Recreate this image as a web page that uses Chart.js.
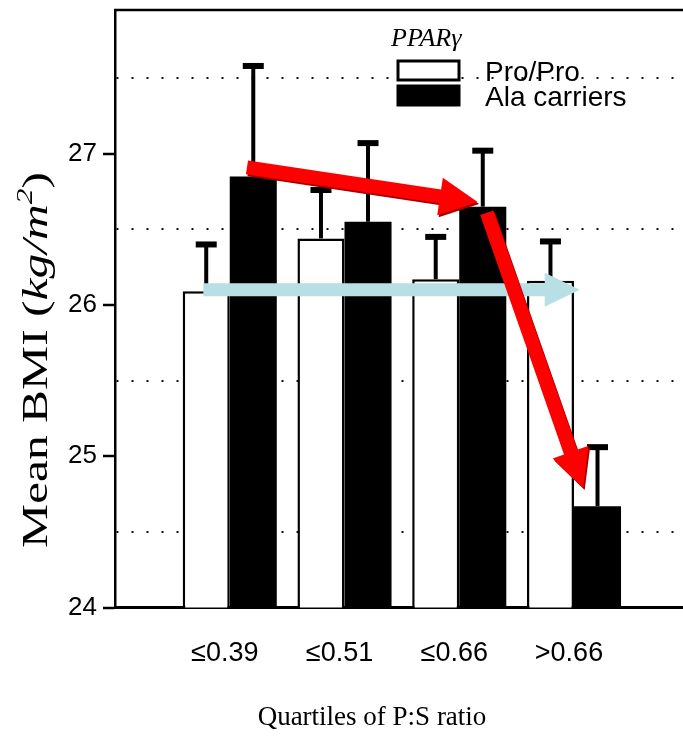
<!DOCTYPE html>
<html>
<head>
<meta charset="utf-8">
<title>Mean BMI by quartile of P:S ratio</title>
<script src="https://cdn.jsdelivr.net/npm/chart.js@4.4.1/dist/chart.umd.min.js"></script>
<style>
  html, body { margin: 0; padding: 0; background: #fff; }
  #wrap { position: relative; width: 683px; height: 736px; }
</style>
</head>
<body>
<div id="wrap"><canvas id="bmiChart"></canvas></div>
<script>
// ---- data ----
const categories  = ["≤0.39", "≤0.51", "≤0.66", ">0.66"];
const proProMean  = [26.09, 26.44, 26.17, 26.16];
const proProErr   = [0.31, 0.32, 0.28, 0.26];
const alaMean     = [26.85, 26.55, 26.65, 24.67];
const alaErr      = [0.73, 0.52, 0.37, 0.39];
const yTickValues = [24, 25, 26, 27];
const yDotLines   = [24.5, 25.5, 26.5, 27.5];

// annotation arrows, in data units (x = quartile position, y = BMI)
const redArrows = [
  { from: [1.15, 26.91], to: [3.16, 26.68] },
  { from: [3.24, 26.61], to: [4.08, 24.79] }
];
const blueArrow = { from: [0.77, 26.10], to: [4.05, 26.10] };

const SANS  = "'Liberation Sans', Arial, sans-serif";
const SERIF = "'Liberation Serif', 'Times New Roman', serif";

const toPoints = (vals) => vals.map((v, i) => ({ x: i + 1, y: v }));

function drawArrow(ctx, x1, y1, x2, y2, shaft, headLen, headW, color){
  const ang = Math.atan2(y2 - y1, x2 - x1);
  const len = Math.hypot(x2 - x1, y2 - y1);
  ctx.save();
  ctx.translate(x1, y1);
  ctx.rotate(ang);
  ctx.beginPath();
  ctx.moveTo(0, -shaft / 2);
  ctx.lineTo(len - headLen, -shaft / 2);
  ctx.lineTo(len - headLen, -headW / 2);
  ctx.lineTo(len, 0);
  ctx.lineTo(len - headLen, headW / 2);
  ctx.lineTo(len - headLen, shaft / 2);
  ctx.lineTo(0, shaft / 2);
  ctx.closePath();
  ctx.fillStyle = color;
  ctx.fill();
  ctx.restore();
}

// upper error whiskers, top frame line, arrows, legend and titles
const decorations = {
  id: "decorations",
  afterDatasetsDraw(chart){
    const { ctx, chartArea, scales: { x, y } } = chart;
    const errs = [proProErr, alaErr];

    // whiskers
    chart.data.datasets.forEach((ds, di) => {
      chart.getDatasetMeta(di).data.forEach((bar, i) => {
        const top = y.getPixelForValue(ds.data[i].y + errs[di][i]);
        ctx.save();
        ctx.strokeStyle = "#000";
        ctx.lineWidth = 4;
        ctx.beginPath();
        ctx.moveTo(bar.x, bar.y);
        ctx.lineTo(bar.x, top);
        ctx.stroke();
        ctx.fillStyle = "#000";
        ctx.fillRect(bar.x - 10.5, top - 3, 21, 6);
        ctx.restore();
      });
    });

    // top frame
    ctx.save();
    ctx.strokeStyle = "#000";
    ctx.lineWidth = 2.5;
    ctx.beginPath();
    ctx.moveTo(chartArea.left - 1, chartArea.top);
    ctx.lineTo(chartArea.right, chartArea.top);
    ctx.stroke();
    ctx.restore();

    // arrows
    const px = (p) => [x.getPixelForValue(p[0]), y.getPixelForValue(p[1])];
    const [b1, b2] = [px(blueArrow.from), px(blueArrow.to)];
    drawArrow(ctx, b1[0], b1[1], b2[0], b2[1], 13, 35, 34, "#b8dfe3");
    redArrows.forEach((a) => {
      const [p1, p2] = [px(a.from), px(a.to)];
      drawArrow(ctx, p1[0] + 1.5, p1[1] + 2, p2[0] + 1.5, p2[1] + 2, 14, 38, 38, "#a80000");
      drawArrow(ctx, p1[0], p1[1], p2[0], p2[1], 14, 38, 38, "#ff0000");
    });

    // legend
    ctx.save();
    ctx.fillStyle = "#000";
    ctx.textBaseline = "alphabetic";
    ctx.font = "italic 26px " + SERIF;
    ctx.fillText("PPARγ", 391, 46);
    const rows = [{ y: 61 }, { y: 86 }];
    chart.data.datasets.forEach((ds, di) => {
      const r = rows[di];
      ctx.fillStyle = ds.backgroundColor;
      ctx.fillRect(398, r.y, 61, 19);
      ctx.strokeStyle = "#000";
      ctx.lineWidth = 3;
      ctx.strokeRect(398, r.y, 61, 19);
      ctx.fillStyle = "#000";
      ctx.font = "28px " + SANS;
      ctx.textBaseline = "middle";
      ctx.fillText(ds.label, 485, r.y + 12);
    });
    ctx.restore();

    // y title: Mean BMI (kg/m²), stretched along its length like the original
    const parts = [
      { t: "Mean BMI (", f: "36px " + SERIF, rise: 0 },
      { t: "kg/m", f: "italic 36px " + SERIF, rise: 0 },
      { t: "2", f: "italic 23px " + SERIF, rise: 15 },
      { t: ")", f: "36px " + SERIF, rise: 0 }
    ];
    ctx.save();
    let total = 0;
    parts.forEach((p) => { ctx.font = p.f; p.w = ctx.measureText(p.t).width; total += p.w; });
    const k = 376 / total;
    ctx.translate(47, 360);
    ctx.rotate(-Math.PI / 2);
    ctx.scale(k, 1);
    ctx.fillStyle = "#000";
    ctx.textBaseline = "alphabetic";
    let cx = -total / 2;
    parts.forEach((p) => { ctx.font = p.f; ctx.fillText(p.t, cx, -p.rise); cx += p.w; });
    ctx.restore();

    // x title
    ctx.save();
    ctx.fillStyle = "#000";
    ctx.font = "27px " + SERIF;
    ctx.textAlign = "center";
    ctx.textBaseline = "alphabetic";
    ctx.fillText("Quartiles of P:S ratio", 372, 725);
    ctx.restore();
  }
};

new Chart(document.getElementById("bmiChart"), {
  type: "bar",
  data: {
    datasets: [
      {
        label: "Pro/Pro",
        data: toPoints(proProMean),
        backgroundColor: "#ffffff",
        borderColor: "#000000",
        borderWidth: 2.5,
        borderSkipped: false
      },
      {
        label: "Ala carriers",
        data: toPoints(alaMean),
        backgroundColor: "#000000",
        borderColor: "#000000",
        borderWidth: 0
      }
    ]
  },
  options: {
    responsive: true,
    maintainAspectRatio: false,
    devicePixelRatio: 1,
    animation: false,
    categoryPercentage: 0.82,
    barPercentage: 1,
    layout: { padding: { top: 10, left: 0, right: 0, bottom: 0 } },
    plugins: {
      legend: { display: false },
      tooltip: { enabled: false }
    },
    scales: {
      x: {
        type: "linear",
        offset: false,
        min: 0,
        max: 4.95,
        afterBuildTicks: (s) => { s.ticks = categories.map((c, i) => ({ value: i + 1 })); },
        afterFit: (s) => { s.height = 128.5; s.paddingLeft = 0; s.paddingRight = 0; },
        ticks: {
          callback: (v) => categories[v - 1] ?? "",
          font: { family: SANS, size: 27 },
          color: "#000",
          padding: 30,
          labelOffset: -5,
          maxRotation: 0,
          autoSkip: false
        },
        grid: { display: false, drawTicks: false, offset: false },
        border: { display: true, color: "#000", width: 3 }
      },
      y: {
        min: 24,
        max: 27.95,
        afterBuildTicks: (s) => {
          s.ticks = [...yTickValues, ...yDotLines].sort((a, b) => a - b).map((v) => ({ value: v }));
        },
        afterFit: (s) => { s.width = 115; s.paddingTop = 0; s.paddingBottom = 0; },
        ticks: {
          callback: (v) => yTickValues.includes(v) ? String(v) : "",
          font: { family: SANS, size: 26 },
          color: "#000",
          padding: 6
        },
        grid: {
          color: (c) => c.tick && yDotLines.includes(c.tick.value) ? "#111" : "rgba(0,0,0,0)",
          lineWidth: 2,
          tickLength: 12,
          tickWidth: 2.5,
          tickColor: (c) => c.tick && yTickValues.includes(c.tick.value) ? "#000" : "rgba(0,0,0,0)"
        },
        border: { display: true, color: "#000", width: 2.5, dash: [2, 13] }
      }
    }
  },
  plugins: [decorations]
});
</script>
</body>
</html>
